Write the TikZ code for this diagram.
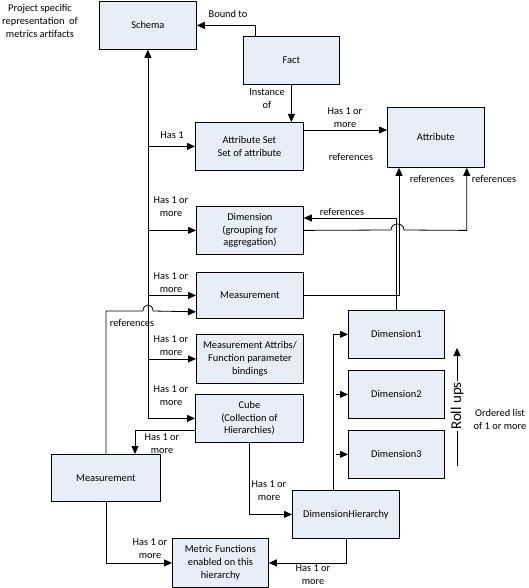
\documentclass[tikz,border=0pt]{standalone}
\usepackage{fontspec}
\setmainfont{Carlito}
\usetikzlibrary{arrows.meta,calc}
\definecolor{boxfill}{RGB}{232,238,247}
\begin{document}
\begin{tikzpicture}[x=1pt,y=-1pt,
  font=\fontsize{10.4}{12.7}\selectfont,
  box/.style={draw=black, line width=0.8pt, fill=boxfill, anchor=north west, inner sep=0pt, align=center},
  arr/.style={draw=black, line width=0.8pt, -{Triangle[length=8pt,width=7pt]}},
  ln/.style={draw=black, line width=0.8pt},
  lbl/.style={align=center, inner sep=0pt}]
\useasboundingbox (0,0) rectangle (529,588);

% boxes
\node[box, minimum width=97pt, minimum height=48pt] (schema) at (99,1) {Schema};
\node[box, minimum width=96pt, minimum height=48pt] (fact) at (243,36) {Fact};
\node[box, minimum width=108pt, minimum height=48pt] (attrset) at (195,122) {Attribute Set\\Set of attribute};
\node[box, minimum width=97pt, minimum height=60pt] (attr) at (387,107) {Attribute};
\node[box, minimum width=107pt, minimum height=48pt] (dim) at (196,206) {Dimension\\(grouping for\\aggregation)};
\node[box, minimum width=107pt, minimum height=46pt] (meas) at (196,272) {Measurement};
\node[box, minimum width=107pt, minimum height=49pt] (mattr) at (196,334) {Measurement Attribs/\\Function parameter\\bindings};
\node[box, minimum width=108pt, minimum height=48pt] (cube) at (195,394) {Cube\\(Collection of\\Hierarchies)};
\node[box, minimum width=109pt, minimum height=47pt] (measL) at (51,454) {Measurement};
\node[box, minimum width=96pt, minimum height=49pt] (metric) at (172,538) {Metric Functions\\enabled on this\\hierarchy};
\node[box, minimum width=107pt, minimum height=48pt] (dh) at (292,490) {DimensionHierarchy};
\node[box, minimum width=96pt, minimum height=48pt] (d1) at (348,310) {Dimension1};
\node[box, minimum width=96pt, minimum height=48pt] (d2) at (348,370) {Dimension2};
\node[box, minimum width=96pt, minimum height=48pt] (d3) at (348,430) {Dimension3};

% Fact -> Schema
\draw[arr] ($(fact.north west)+(12,0)$) |- (schema.east);
% Fact -> Attribute Set
\draw[arr] (fact.south) -- (fact.south |- attrset.north);

% trunk
\coordinate (tb) at (schema.south |- cube.west);
\draw[arr] (tb) -- (schema.south);
\draw[arr] (tb) -- (cube.west);
\draw[arr] (schema.south |- attrset.west) -- (attrset.west);
\draw[arr] (schema.south |- dim.west) -- (dim.west);
\draw[arr] (schema.south |- meas.west) -- (meas.west);
\draw[arr] (schema.south |- mattr.west) -- (mattr.west);

% Attribute Set -> Attribute
\coordinate (as1) at ($(attrset.north east)+(0,8)$);
\draw[arr] (as1) -- (as1 -| attr.west);

% Measurement -> Attribute
\draw[arr] (meas.east) -| ($(attr.south west)+(12,0)$);
% Dimension1 -> Dimension
\draw[arr] (d1.north) |- ($(dim.north east)+(0,12)$);
% Dimension -> Attribute (with hop)
\coordinate (hopA) at (391,230);
\coordinate (hopB) at (404,230);
\coordinate (dcorner) at ($(attr.south east)+(-18,0)$);
\draw[arr] (dim.east) -- (hopA) .. controls (391,222) and (404,222) .. (hopB) -- (dcorner |- dim.east) -- (dcorner);

% Measurement (left) -> Measurement (references, with hop)
\coordinate (mlc) at (measL.north |- 0,311);
\coordinate (hopC) at (143,311);
\coordinate (hopD) at (153,311);
\draw[arr] (measL.north) -- (mlc) -- (hopC) .. controls (143,303) and (153,303) .. (hopD) -- ($(meas.south west)+(0,-7)$);

% Cube -> Measurement (left)
\draw[arr] ($(cube.south west)+(0,-12)$) -| ($(measL.north west)+(84,0)$);
% Measurement (left) -> Metric Functions
\draw[arr] (measL.south) |- (metric.west);
% Cube -> DimensionHierarchy
\draw[arr] (cube.south) |- (dh.west);
% DimensionHierarchy -> Metric Functions
\draw[arr] (dh.south) |- (metric.east);
% DimensionHierarchy -> Dimension1..3
\draw[arr] ($(dh.north west)+(41,0)$) |- (d1.west);
\coordinate (s2) at ($(d2.west)+(-12,0)$);
\coordinate (s3) at ($(d3.west)+(-12,0)$);
\draw[arr] (s2) -- (d2.west);
\draw[arr] (s3) -- (d3.west);

% Roll ups
\coordinate (rb) at (457,466);
\coordinate (rt) at (457,348);
\draw[arr] (rb) -- (rt);
\node[fill=white, inner sep=1pt, rotate=90, font=\fontsize{15}{18}\selectfont] (roll) at (457,406) {Roll ups};

% labels
\node[lbl] (l1) at (228,14) {Bound to};
\node[lbl] (l2) at (267,98.5) {Instance\\of};
\node[lbl] (l3) at (172,135) {Has 1};
\node[lbl] (l4) at (171,206.5) {Has 1 or\\more};
\node[lbl] (l5) at (171,283) {Has 1 or\\more};
\node[lbl] (l6) at (171,345.5) {Has 1 or\\more};
\node[lbl] (l7) at (171,395.5) {Has 1 or\\more};
\node[lbl] (l8) at (345,118) {Has 1 or\\more};
\node[lbl] (l9) at (351,157) {references};
\node[lbl] (l10) at (432,179) {references};
\node[lbl] (l11) at (494,179) {references};
\node[lbl] (l12) at (342,212) {references};
\node[lbl] (l13) at (132,323) {references};
\node[lbl] (l14) at (162,443.5) {Has 1 or\\more};
\node[lbl] (l15) at (269,490.5) {Has 1 or\\more};
\node[lbl] (l16) at (150,548.5) {Has 1 or\\more};
\node[lbl] (l17) at (313,574.5) {Has 1 or\\more};
\node[lbl] (l18) at (500,419.5) {Ordered list\\of 1 or more};
\node[lbl] (l19) at (40,21) {Project specific\\representation~ of\\metrics artifacts};
\end{tikzpicture}
\end{document}
